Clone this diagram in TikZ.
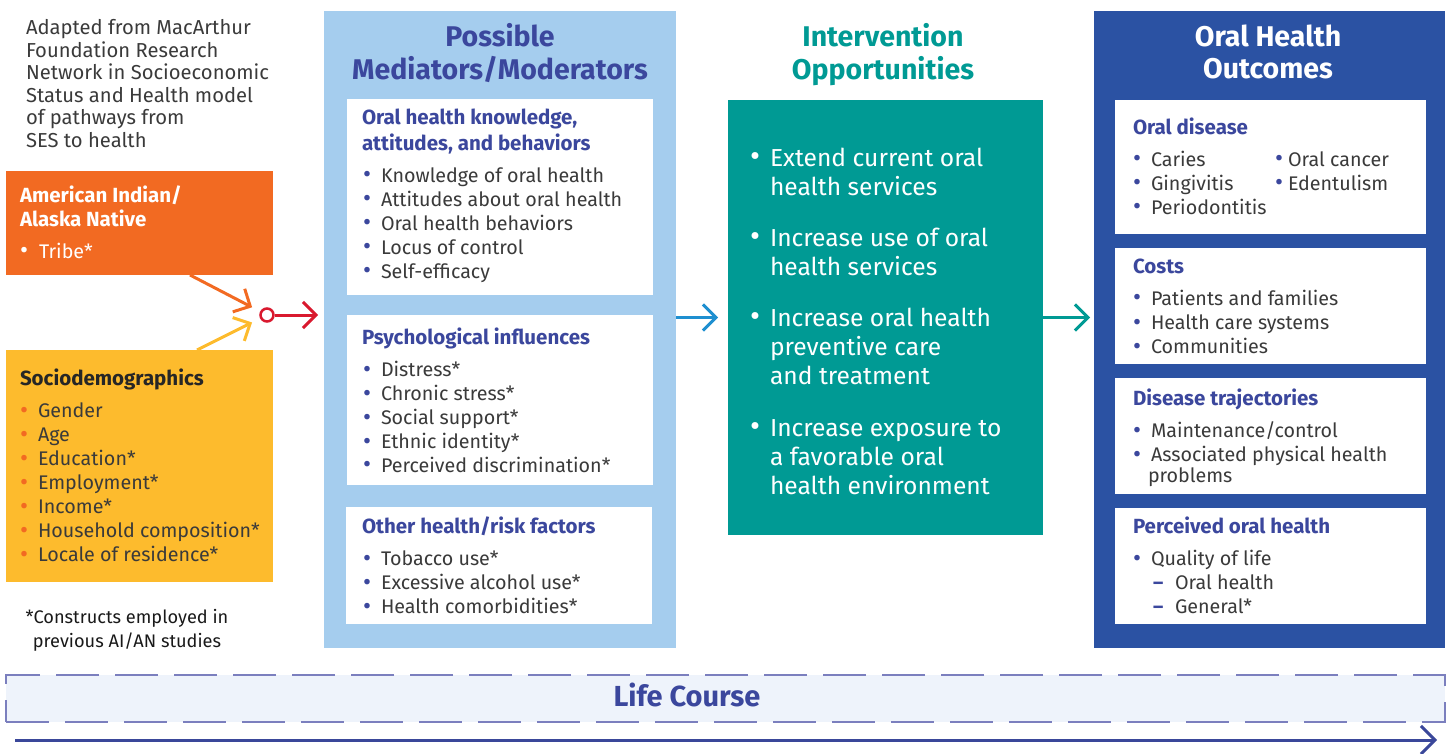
\documentclass[tikz,border=0pt]{standalone}
\usepackage{fontspec}
\setmainfont{Fira Sans}
\usetikzlibrary{arrows.meta}
\definecolor{navy}{HTML}{3B479D}
\definecolor{orangeC}{HTML}{F26A22}
\definecolor{yellowC}{HTML}{FDBB2D}
\definecolor{lightblueC}{HTML}{A5CDEE}
\definecolor{tealC}{HTML}{009A94}
\definecolor{darkblueC}{HTML}{2B52A3}
\definecolor{txt}{HTML}{3A3A3A}
\definecolor{redC}{HTML}{D9192E}
\definecolor{arrowblue}{HTML}{1E8FD0}
\definecolor{lifefill}{HTML}{EEF3FB}
\definecolor{lifedash}{HTML}{7B7FBE}
\definecolor{lifearrow}{HTML}{3A479A}
\newcommand\bigbul{\raisebox{-0.5pt}{\scalebox{1.25}{\textbullet}}}
\newcommand\nb{\textcolor{navy}{\bigbul}}
\newcommand\ob{\textcolor{orangeC}{\bigbul}}
\newcommand\wb{\textcolor{white}{\bigbul}}
\newcommand\nd{\makebox[22pt][l]{\textcolor{navy}{\bfseries –}}}
\tikzset{
  box/.style={anchor=north west, inner sep=0, outer sep=0},
  tl/.style={anchor=base west, inner sep=0, outer sep=0, yshift=1.5pt},
  tc/.style={anchor=base, inner sep=0, outer sep=0, yshift=1.5pt},
  body/.style={font=\fontsize{19.7}{24}\selectfont, text=txt},
  hd/.style={font=\fontsize{20.5}{26}\selectfont\bfseries, text=navy},
  ttl/.style={font=\fontsize{28.5}{32}\selectfont\bfseries},
  barb/.style={line width=3pt, -{Straight Barb[length=13pt,width=26pt]}},
}
\begin{document}
\begin{tikzpicture}[x=1pt,y=-1pt]
\useasboundingbox (0,0) rectangle (1449,754);

% ---------- left column ----------
\node[tl, font=\fontsize{20.2}{22.6}\selectfont, text=txt] (note) at (26,36)
  {\begin{tabular}[t]{@{}l@{}}Adapted from MacArthur\\Foundation Research\\Network in Socioeconomic\\Status and Health model\\of pathways from\\SES to health\end{tabular}};

\node[box, fill=orangeC, minimum width=267, minimum height=104] (ai) at (6,171) {};
\node[tl, font=\fontsize{20.5}{24}\selectfont\bfseries, text=white] (aiT) at (20,204)
  {\begin{tabular}[t]{@{}l@{}}American Indian/\\Alaska Native\end{tabular}};
\node[tl, font=\fontsize{19.7}{24}\selectfont, text=white] (aiL) at (20,260)
  {\begin{tabular}[t]{@{}p{19pt}@{}l@{}}\wb & Tribe*\end{tabular}};

\node[box, fill=yellowC, minimum width=267, minimum height=232] (socio) at (6,350) {};
\node[tl, font=\fontsize{20.5}{24}\selectfont\bfseries, text=black!85] (socT) at (20,387) {Sociodemographics};
\node[tl, body] (socL) at (20,419)
  {\begin{tabular}[t]{@{}p{18pt}@{}l@{}}
   \ob & Gender\\ \ob & Age\\ \ob & Education*\\ \ob & Employment*\\
   \ob & Income*\\ \ob & Household composition*\\ \ob & Locale of residence*\end{tabular}};

\node[tc, font=\fontsize{18.2}{24}\selectfont, text=black!90] (foot) at (127,625)
  {\begin{tabular}[t]{@{}c@{}}*Constructs employed in\\previous AI/AN studies\end{tabular}};

% ---------- mediators panel ----------
\node[box, fill=lightblueC, minimum width=352, minimum height=637] (med) at (324,11) {};
\node[tc, ttl, text=navy] (medT) at (500,48)
  {\begin{tabular}[t]{@{}c@{}}Possible\\Mediators/Moderators\end{tabular}};

\node[box, fill=white, minimum width=306, minimum height=196] (m1) at (347,99) {};
\node[tl, hd] (m1T) at (362,126)
  {\begin{tabular}[t]{@{}l@{}}Oral health knowledge,\\attitudes, and behaviors\end{tabular}};
\node[tl, body] (m1L) at (363,184)
  {\begin{tabular}[t]{@{}p{18pt}@{}l@{}}
   \nb & Knowledge of oral health\\ \nb & Attitudes about oral health\\
   \nb & Oral health behaviors\\ \nb & Locus of control\\ \nb & Self-efficacy\end{tabular}};

\node[box, fill=white, minimum width=306, minimum height=170] (m2) at (347,315) {};
\node[tl, hd] (m2T) at (362,346) {Psychological influences};
\node[tl, body] (m2L) at (363,378)
  {\begin{tabular}[t]{@{}p{18pt}@{}l@{}}
   \nb & Distress*\\ \nb & Chronic stress*\\ \nb & Social support*\\
   \nb & Ethnic identity*\\ \nb & Perceived discrimination*\end{tabular}};

\node[box, fill=white, minimum width=306, minimum height=117] (m3) at (346,507) {};
\node[tl, hd] (m3T) at (362,535) {Other health/risk factors};
\node[tl, body] (m3L) at (363,567)
  {\begin{tabular}[t]{@{}p{18pt}@{}l@{}}
   \nb & Tobacco use*\\ \nb & Excessive alcohol use*\\ \nb & Health comorbidities*\end{tabular}};

% ---------- intervention ----------
\node[tc, ttl, text=tealC] (ivT) at (883,48)
  {\begin{tabular}[t]{@{}c@{}}Intervention\\Opportunities\end{tabular}};
\node[box, fill=tealC, minimum width=315, minimum height=435] (iv) at (728,100) {};
\node[tl, font=\fontsize{24.6}{29}\selectfont, text=white] (ivL) at (750,168)
  {\begin{tabular}[t]{@{}p{20pt}@{}l@{}}
   \wb & Extend current oral\\ & health services\\[22pt]
   \wb & Increase use of oral\\ & health services\\[22pt]
   \wb & Increase oral health\\ & preventive care\\ & and treatment\\[23pt]
   \wb & Increase exposure to\\ & a favorable oral\\ & health environment\end{tabular}};

% ---------- outcomes ----------
\node[box, fill=darkblueC, minimum width=351, minimum height=637] (out) at (1094,11) {};
\node[tc, ttl, text=white] (outT) at (1268,48)
  {\begin{tabular}[t]{@{}c@{}}Oral Health\\Outcomes\end{tabular}};

\node[box, fill=white, minimum width=311, minimum height=134] (o1) at (1115,100) {};
\node[tl, hd] (o1T) at (1133,136) {Oral disease};
\node[tl, body] (o1L) at (1133,168)
  {\begin{tabular}[t]{@{}p{18pt}@{}l@{}}
   \nb & Caries\\ \nb & Gingivitis\\ \nb & Periodontitis\end{tabular}};
\node[tl, body] (o1R) at (1275,168)
  {\begin{tabular}[t]{@{}p{13pt}@{}l@{}}
   \nb & Oral cancer\\ \nb & Edentulism\end{tabular}};

\node[box, fill=white, minimum width=311, minimum height=116] (o2) at (1115,248) {};
\node[tl, hd] (o2T) at (1133,275) {Costs};
\node[tl, body] (o2L) at (1133,307)
  {\begin{tabular}[t]{@{}p{18pt}@{}l@{}}
   \nb & Patients and families\\ \nb & Health care systems\\ \nb & Communities\end{tabular}};

\node[box, fill=white, minimum width=311, minimum height=116] (o3) at (1115,378) {};
\node[tl, hd] (o3T) at (1133,407) {Disease trajectories};
\node[tl, body] (o3L) at (1133,439)
  {\begin{tabular}[t]{@{}p{18pt}@{}l@{}}
   \nb & Maintenance/control\\ \nb & Associated physical health\\[-3pt]
   & \hspace{-3pt}problems\end{tabular}};

\node[box, fill=white, minimum width=311, minimum height=116] (o4) at (1115,508) {};
\node[tl, hd] (o4T) at (1133,535) {Perceived oral health};
\node[tl, body] (o4L) at (1133,567)
  {\begin{tabular}[t]{@{}p{18pt}@{}l@{}}
   \nb & Quality of life\\ & \hspace{2pt}\nd Oral health\\ & \hspace{2pt}\nd General*\end{tabular}};

% ---------- connectors ----------
\node[circle, draw=redC, line width=2.5pt, minimum size=13pt, inner sep=0] (junc) at (267,315) {};
\draw[barb, orangeC, shorten >=9pt] (ai.south west) ++(184,0) -- (junc);
\draw[barb, yellowC, shorten >=9pt] (socio.north west) ++(191,0) -- (junc);
\draw[barb, redC, shorten >=6pt] (junc.east) -- (med.west |- junc);
\draw[barb, arrowblue, shorten >=10pt] (med.east |- iv) -- (iv.west);
\draw[barb, tealC, shorten >=4pt] (iv.east) -- (out.west |- iv);

% ---------- life course ----------
\node[box, fill=lifefill, draw=lifedash, line width=2.5pt, dash pattern=on 43pt off 16pt,
  minimum width=1439, minimum height=47] (life) at (6,675) {};
\node[tc, font=\fontsize{29}{30}\selectfont\bfseries, text=navy] (lifeT) at (687,708) {Life Course};
\coordinate (lcS) at (15,740);
\coordinate (lcE) at (1437,740);
\draw[barb, lifearrow, -{Straight Barb[length=14pt,width=28pt]}] (lcS) -- (lcE);
\end{tikzpicture}
\end{document}
